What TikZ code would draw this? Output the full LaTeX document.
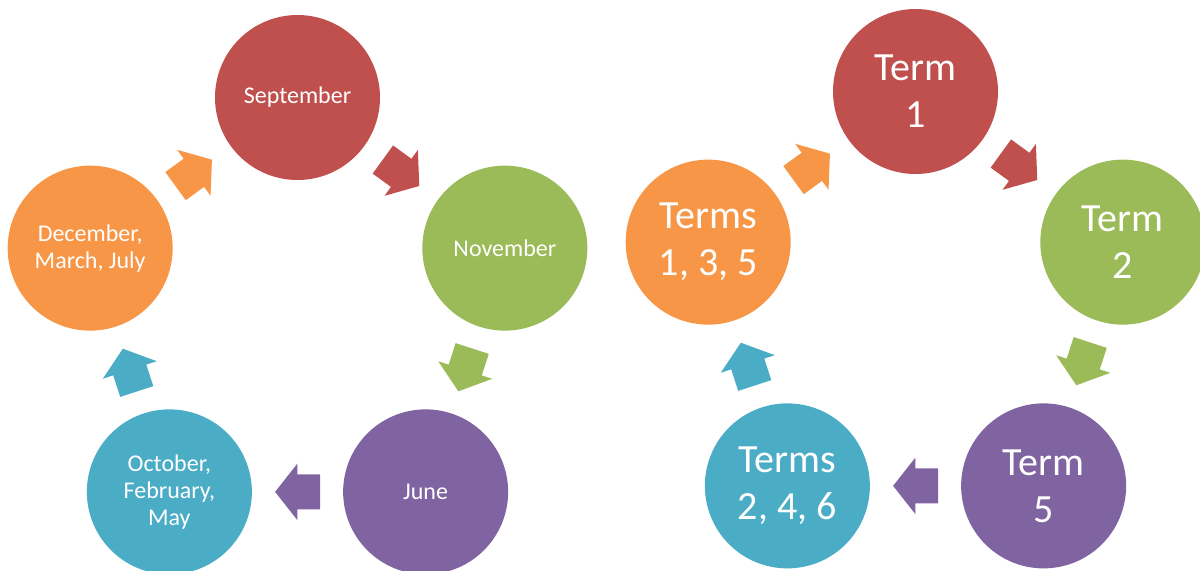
\documentclass[tikz,border=0pt]{standalone}
\usepackage{fontspec}
\setmainfont{Carlito}
\usetikzlibrary{shapes.arrows,calc}

\definecolor{cred}{HTML}{C0504D}
\definecolor{cgreen}{HTML}{9BBB59}
\definecolor{cpurple}{HTML}{8064A2}
\definecolor{cblue}{HTML}{4BACC6}
\definecolor{corange}{HTML}{F79646}

\begin{document}
\begin{tikzpicture}[x=0.5pt, y=0.5pt,
	month/.style={circle, fill=#1, minimum size=82.5pt, inner sep=0pt, text=white, align=center, font=\fontsize{12}{13.5}\selectfont},
	term/.style={month=#1, font=\fontsize{20}{23.5}\selectfont},
	turn/.style={single arrow, fill=#1, pos=0.423, sloped, allow upside down, minimum height=22.5pt, inner xsep=0pt, inner ysep=8.5pt, single arrow head extend=5.5pt, single arrow tip angle=103.6}]

		\useasboundingbox (0,0) rectangle (1200,570);
		\coordinate (lc) at (297.5,254.5);
		\coordinate (rc) at (915.5,260.5);

		% months
		\node[month=cred] (sep) at ($(lc)+(90:218)$) {September};
		\node[month=cgreen] (nov) at ($(lc)+(18:218)$) {November};
		\node[month=cpurple] (jun) at ($(lc)+(-54:218)$) {June};
		\node[month=cblue] (oct) at ($(lc)+(-126:218)$) {October,\\February,\\May};
		\node[month=corange] (dec) at ($(lc)+(162:218)$) {December,\\March, July};

		\path (sep) -- node[turn=cred] {} (nov);
		\path (nov) -- node[turn=cgreen] {} (jun);
		\path (jun) -- node[turn=cpurple] {} (oct);
		\path (oct) -- node[turn=cblue] {} (dec);
		\path (dec) -- node[turn=corange] {} (sep);

		% terms
		\node[term=cred] (t1) at ($(rc)+(90:218)$) {Term\\1};
		\node[term=cgreen] (t2) at ($(rc)+(18:218)$) {Term\\2};
		\node[term=cpurple] (t5) at ($(rc)+(-54:218)$) {Term\\5};
		\node[term=cblue] (t246) at ($(rc)+(-126:218)$) {Terms\\2, 4, 6};
		\node[term=corange] (t135) at ($(rc)+(162:218)$) {Terms\\1, 3, 5};

		\path (t1) -- node[turn=cred] {} (t2);
		\path (t2) -- node[turn=cgreen] {} (t5);
		\path (t5) -- node[turn=cpurple] {} (t246);
		\path (t246) -- node[turn=cblue] {} (t135);
		\path (t135) -- node[turn=corange] {} (t1);

\end{tikzpicture}
\end{document}
